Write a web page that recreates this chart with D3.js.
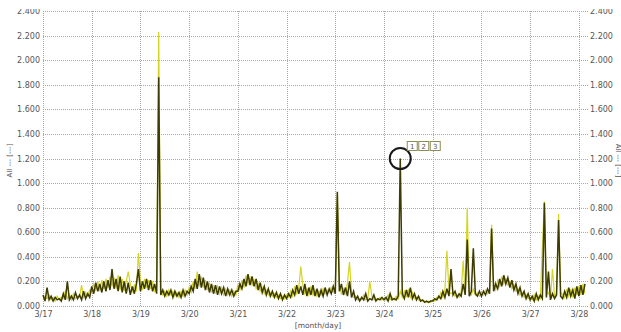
<!DOCTYPE html>
<html>
<head>
<meta charset="utf-8">
<script src="https://cdn.jsdelivr.net/npm/d3@7"></script>
<style>
  html, body { margin: 0; padding: 0; background: #fff; overflow: hidden; }
  svg { display: block; }
  text { font-family: "DejaVu Sans", Verdana, sans-serif; fill: #555; }
</style>
</head>
<body>
<svg id="chart" width="621" height="332"></svg>
<script>
// Hourly readings of the main channel, starting 3/17 00:00
const darkDay17 = [0.09,0.04,0.15,0.05,0.08,0.04,0.07,0.05,0.06,0.04,0.10,0.05,0.20,0.05,0.08,0.05,0.11,0.06,0.09,0.05,0.12,0.06,0.10,0.07];
const darkDay18 = [0.16,0.10,0.19,0.12,0.18,0.11,0.20,0.12,0.21,0.13,0.30,0.14,0.22,0.12,0.24,0.11,0.20,0.10,0.19,0.09,0.16,0.10,0.18,0.30];
const darkDay19 = [0.12,0.20,0.14,0.22,0.13,0.21,0.12,0.18,0.10,1.86,0.09,0.13,0.08,0.12,0.09,0.13,0.07,0.12,0.08,0.11,0.07,0.13,0.08,0.12];
const darkDay20 = [0.10,0.16,0.12,0.22,0.14,0.26,0.15,0.23,0.13,0.20,0.11,0.18,0.10,0.17,0.09,0.16,0.10,0.15,0.08,0.14,0.09,0.13,0.08,0.12];
const darkDay21 = [0.12,0.18,0.14,0.22,0.16,0.26,0.17,0.24,0.16,0.22,0.13,0.19,0.11,0.16,0.09,0.14,0.08,0.12,0.07,0.11,0.06,0.10,0.05,0.09];
const darkDay22 = [0.06,0.10,0.07,0.13,0.09,0.17,0.10,0.16,0.09,0.18,0.08,0.15,0.09,0.17,0.08,0.14,0.07,0.13,0.08,0.15,0.09,0.14,0.10,0.16];
const darkDay23 = [0.10,0.93,0.12,0.18,0.09,0.15,0.08,0.20,0.07,0.12,0.05,0.08,0.04,0.07,0.05,0.10,0.04,0.06,0.05,0.09,0.04,0.06,0.05,0.07];
const darkDay24 = [0.05,0.07,0.04,0.10,0.05,0.06,0.05,0.08,1.20,0.10,0.06,0.13,0.07,0.15,0.06,0.10,0.05,0.08,0.04,0.05,0.03,0.04,0.03,0.04];
const darkDay25 = [0.04,0.06,0.05,0.08,0.06,0.12,0.07,0.14,0.08,0.30,0.09,0.12,0.07,0.10,0.08,0.18,0.09,0.54,0.08,0.12,0.47,0.10,0.08,0.12];
const darkDay26 = [0.08,0.12,0.09,0.14,0.10,0.63,0.12,0.18,0.14,0.22,0.16,0.25,0.18,0.23,0.15,0.21,0.13,0.18,0.10,0.15,0.08,0.12,0.06,0.10];
const darkDay27 = [0.05,0.08,0.04,0.10,0.05,0.09,0.06,0.84,0.07,0.28,0.05,0.10,0.06,0.09,0.70,0.08,0.06,0.12,0.07,0.15,0.08,0.13,0.06,0.16];
const darkDay28 = [0.08,0.17,0.09,0.18];

// Hourly readings of the second channel, same timestamps
const yellowDay17 = [0.05,0.08,0.06,0.09,0.05,0.07,0.04,0.08,0.05,0.07,0.06,0.12,0.06,0.09,0.05,0.10,0.06,0.08,0.07,0.17,0.07,0.11,0.08,0.13];
const yellowDay18 = [0.11,0.18,0.13,0.20,0.12,0.21,0.14,0.22,0.15,0.24,0.16,0.23,0.14,0.25,0.13,0.22,0.12,0.20,0.28,0.18,0.12,0.17,0.12,0.43];
const yellowDay19 = [0.19,0.13,0.22,0.15,0.21,0.14,0.20,0.12,0.16,2.23,0.13,0.09,0.12,0.08,0.13,0.09,0.12,0.08,0.11,0.07,0.12,0.08,0.13,0.09];
const yellowDay20 = [0.15,0.11,0.20,0.14,0.28,0.16,0.24,0.15,0.21,0.13,0.19,0.11,0.17,0.10,0.16,0.10,0.15,0.09,0.14,0.09,0.13,0.08,0.12,0.09];
const yellowDay21 = [0.17,0.13,0.21,0.15,0.25,0.18,0.23,0.17,0.21,0.14,0.18,0.12,0.15,0.10,0.13,0.09,0.11,0.08,0.10,0.07,0.09,0.06,0.08,0.06];
const yellowDay22 = [0.09,0.07,0.12,0.08,0.16,0.10,0.15,0.32,0.17,0.10,0.14,0.09,0.16,0.09,0.13,0.08,0.12,0.09,0.14,0.10,0.13,0.11,0.15,0.11];
const yellowDay23 = [0.14,0.90,0.17,0.10,0.14,0.09,0.19,0.36,0.11,0.07,0.08,0.05,0.06,0.05,0.09,0.05,0.06,0.20,0.08,0.05,0.06,0.05,0.07,0.05];
const yellowDay24 = [0.06,0.05,0.09,0.05,0.07,0.05,0.08,0.06,0.12,0.07,0.12,0.08,0.14,0.07,0.11,0.06,0.07,0.05,0.05,0.04,0.04,0.03,0.04,0.03];
const yellowDay25 = [0.05,0.04,0.07,0.06,0.11,0.07,0.13,0.45,0.12,0.10,0.11,0.08,0.09,0.07,0.12,0.37,0.10,0.80,0.11,0.09,0.14,0.09,0.11,0.08];
const yellowDay26 = [0.11,0.09,0.13,0.10,0.13,0.66,0.17,0.13,0.21,0.16,0.24,0.18,0.22,0.17,0.20,0.14,0.17,0.12,0.14,0.09,0.11,0.07,0.09,0.06];
const yellowDay27 = [0.07,0.05,0.09,0.05,0.08,0.06,0.47,0.85,0.09,0.11,0.07,0.30,0.08,0.10,0.75,0.11,0.09,0.07,0.13,0.08,0.14,0.07,0.15,0.09];
const yellowDay28 = [0.16,0.09,0.18,0.10];

const yTicks = [0, 0.2, 0.4, 0.6, 0.8, 1.0, 1.2, 1.4, 1.6, 1.8, 2.0, 2.2, 2.4];
const markerLabels = ["1", "2", "3"];
const markerValue = 1.20;
const yTitle = "All --- [---]";
const xTitle = "[month/day]";

const start = new Date(2015, 2, 17, 0, 0);
const end = new Date(2015, 2, 28, 4, 0);
const hour = 3600 * 1000;

const darkValues = [].concat(darkDay17, darkDay18, darkDay19, darkDay20, darkDay21, darkDay22,
  darkDay23, darkDay24, darkDay25, darkDay26, darkDay27, darkDay28);
const yellowValues = [].concat(yellowDay17, yellowDay18, yellowDay19, yellowDay20, yellowDay21, yellowDay22,
  yellowDay23, yellowDay24, yellowDay25, yellowDay26, yellowDay27, yellowDay28);

const darkData = darkValues.map((v, i) => ({ t: new Date(+start + i * hour), v }));
const yellowData = yellowValues.map((v, i) => ({ t: new Date(+start + i * hour), v }));

const svg = d3.select("#chart");
const plotLeft = 43, plotRight = 587, plotTop = 11, plotBottom = 306;

const x = d3.scaleTime().domain([start, end]).range([plotLeft, plotRight]);
const y = d3.scaleLinear().domain([0, 2.4]).range([plotBottom, plotTop]);

const fmt = d3.format(".3f");

// labels above the top edge are cut by the frame
svg.append("defs").append("clipPath").attr("id", "labelClip")
  .append("rect").attr("x", 0).attr("y", 9).attr("width", 621).attr("height", 323);

// grid
const grid = svg.append("g").attr("stroke", "#a8a8a8").attr("stroke-width", 1)
  .attr("stroke-dasharray", "1,1").attr("shape-rendering", "crispEdges");
grid.selectAll("line.h").data(yTicks).join("line")
  .attr("x1", plotLeft).attr("x2", plotRight + 1)
  .attr("y1", d => Math.round(y(d)) + 0.5).attr("y2", d => Math.round(y(d)) + 0.5);
const days = d3.timeDay.range(start, end);
grid.selectAll("line.v").data(days).join("line")
  .attr("x1", d => Math.round(x(d)) + 0.5).attr("x2", d => Math.round(x(d)) + 0.5)
  .attr("y1", plotTop).attr("y2", plotBottom);

// left and right value axes
const axL = svg.append("g").attr("clip-path", "url(#labelClip)").append("g")
  .attr("transform", `translate(${plotLeft},0)`)
  .call(d3.axisLeft(y).tickValues(yTicks).tickFormat(fmt).tickSize(0).tickPadding(3));
const axR = svg.append("g").attr("clip-path", "url(#labelClip)").append("g")
  .attr("transform", `translate(${plotRight},0)`)
  .call(d3.axisRight(y).tickValues(yTicks).tickFormat(fmt).tickSize(0).tickPadding(3));
const axB = svg.append("g").attr("transform", `translate(0,${plotBottom})`)
  .call(d3.axisBottom(x).tickValues(days).tickFormat(d3.timeFormat("%-m/%-d")).tickSize(0).tickPadding(5));
[axL, axR, axB].forEach(a => {
  a.select(".domain").remove();
  a.selectAll("text").attr("font-size", 8).attr("fill", "#555")
    .attr("font-family", "DejaVu Sans, Verdana, sans-serif");
});

// series
const line = d3.line().x(d => x(d.t)).y(d => y(d.v));
svg.append("path").datum(yellowData).attr("d", line)
  .attr("fill", "none").attr("stroke", "#d4d422").attr("stroke-width", 1.2)
  .attr("stroke-linejoin", "miter");
svg.append("path").datum(darkData).attr("d", line)
  .attr("fill", "none").attr("stroke", "#3d3b00").attr("stroke-width", 1.5)
  .attr("stroke-linejoin", "miter");

// cursor marker on the 3/24 peak
const peakIdx = darkValues.indexOf(markerValue);
const mx = x(darkData[peakIdx].t), my = y(markerValue);
svg.append("circle").attr("cx", mx).attr("cy", my).attr("r", 10.5)
  .attr("fill", "none").attr("stroke", "#1a1a1a").attr("stroke-width", 2);
const boxes = svg.append("g").selectAll("g").data(markerLabels).join("g")
  .attr("transform", (d, i) => `translate(${mx + 7 + i * 11.5},${my - 17})`);
boxes.append("rect").attr("width", 10).attr("height", 9)
  .attr("fill", "#fff").attr("stroke", "#8c8c55").attr("stroke-width", 1);
boxes.append("text").attr("x", 5).attr("y", 7.5).attr("text-anchor", "middle")
  .attr("font-size", 7).attr("fill", "#6a6a40").text(d => d);

// titles
svg.append("text").attr("transform", `translate(12,${(plotTop + plotBottom) / 2 + 2}) rotate(-90)`)
  .attr("text-anchor", "middle").attr("font-size", 7).text(yTitle);
svg.append("text").attr("transform", `translate(616,${(plotTop + plotBottom) / 2 + 2}) rotate(90)`)
  .attr("text-anchor", "middle").attr("font-size", 7).text(yTitle);
svg.append("text").attr("x", (plotLeft + plotRight) / 2 + 3).attr("y", 328)
  .attr("text-anchor", "middle").attr("font-size", 7.5).text(xTitle);
</script>
</body>
</html>
